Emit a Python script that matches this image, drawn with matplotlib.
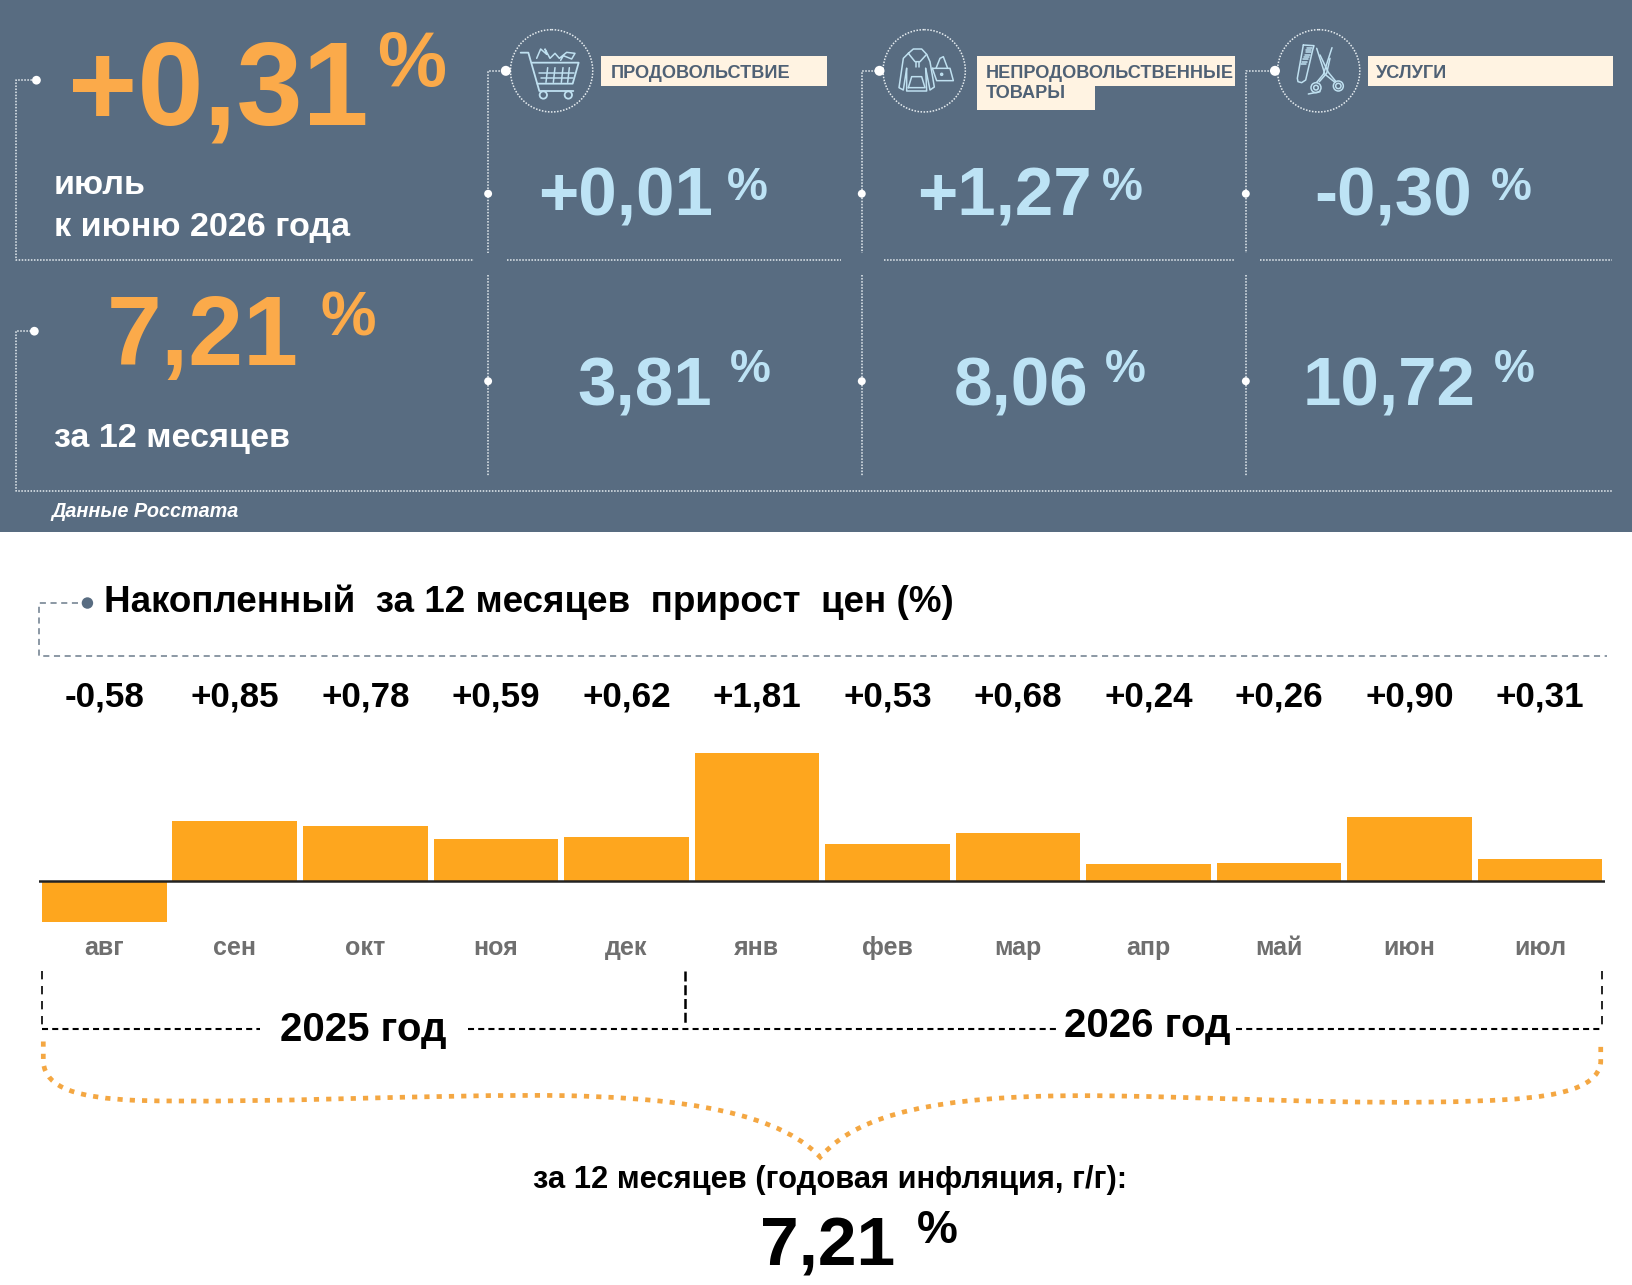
import matplotlib
matplotlib.use('Agg')
import matplotlib.pyplot as plt
from matplotlib.patches import Rectangle, Circle, PathPatch, Ellipse
from matplotlib.path import Path

plt.rcParams['font.family'] = ['Liberation Sans', 'DejaVu Sans']

months = ['авг', 'сен', 'окт', 'ноя', 'дек', 'янв', 'фев', 'мар', 'апр', 'май', 'июн', 'июл']
monthly_growth = [-0.58, 0.85, 0.78, 0.59, 0.62, 1.81, 0.53, 0.68, 0.24, 0.26, 0.90, 0.31]
categories = ['ПРОДОВОЛЬСТВИЕ', 'НЕПРОДОВОЛЬСТВЕННЫЕ\nТОВАРЫ', 'УСЛУГИ']
month_values = ['+0,01', '+1,27', '-0,30']
year_values = ['3,81', '8,06', '10,72']

BG = '#586c81'
ORANGE = '#fbaa4a'
BAR = '#fea61e'
BLUE = '#bde3f5'
CREAM = '#fff3e2'
DOT = '#e6ecf0'
GREY = '#6f6f6f'
ICON = '#bfe0f0'

W, H = 1569, 1233.8  # overlay coordinates, close to the picture scale
fig = plt.figure(figsize=(16.33, 12.85), dpi=100, facecolor='white')
ov = fig.add_axes([0, 0, 1, 1])
ov.set_xlim(0, W)
ov.set_ylim(H, 0)
ov.axis('off')

ov.add_patch(Rectangle((0, 0), W, 510.5, color=BG, lw=0))


def dotted(xs, ys, color=DOT, lw=1.1):
    ov.plot(xs, ys, color=color, lw=lw, ls=(0, (1, 1)))


def node(x, y, r=4.2, color='white'):
    ov.add_patch(Ellipse((x, y), r * 2, r * 2, color=color, lw=0, zorder=5))


# --- top panel: connector lines ---
dotted([34, 15, 15, 455], [77, 77, 250, 250])
dotted([33, 15, 15, 1549], [318, 318, 471, 471])
node(35, 77)
node(33, 318)
for x0, x1 in [(487, 808), (849, 1186), (1211, 1549)]:
    dotted([x0, x1], [250, 250])

col_x = [469, 828, 1197]
head_x = [486, 845, 1225]
circle_x = [530, 888, 1267]
for cx, hx, ix in zip(col_x, head_x, circle_x):
    dotted([hx, cx, cx], [68, 68, 243])
    dotted([cx, cx], [264, 457])
    node(hx, 68, 4.8)
    node(cx, 186, 3.8)
    node(cx, 366, 3.8)
    ov.add_patch(Circle((ix, 68), 39.5, fill=False, ec=DOT, lw=1.1, ls=(0, (1, 1))))

# --- category labels ---
ov.add_patch(Rectangle((577, 54), 218, 29, color=CREAM, lw=0))
ov.add_patch(Rectangle((939, 54), 248, 29, color=CREAM, lw=0))
ov.add_patch(Rectangle((939, 83), 113, 23, color=CREAM, lw=0))
ov.add_patch(Rectangle((1314, 54), 236, 29, color=CREAM, lw=0))
lab_kw = dict(color='#4f6175', fontsize=13.1, fontweight='bold')
ov.text(587, 75, categories[0], **lab_kw)
first, second = categories[1].split('\n')
ov.text(947, 75, first, **lab_kw)
ov.text(947, 94.5, second, **lab_kw)
ov.text(1322, 75, categories[2], **lab_kw)


# --- icons (outlines, in px of a 100x95 crop x3) ---
def sketch(ox, oy, pts, lw=1.1):
    xs = [(ox + p[0] / 3) * W / 1633 for p in pts]
    ys = [(oy + p[1] / 3) * H / 1285 for p in pts]
    ov.plot(xs, ys, color=ICON, lw=lw, solid_capstyle='round', solid_joinstyle='round')


def ring(ox, oy, c, r, lw=1.1):
    ov.add_patch(Circle(((ox + c[0] / 3) * W / 1633, (oy + c[1] / 3) * H / 1285), r / 3 * W / 1633,
                        fill=False, ec=ICON, lw=lw))


# cart
ox, oy = 500, 25
sketch(ox, oy, [(62, 83), (85, 83), (118, 198), (220, 198)], 1.3)
sketch(ox, oy, [(97, 113), (236, 113), (218, 176), (112, 176)], 1.3)
sketch(ox, oy, [(118, 143), (222, 143)])
sketch(ox, oy, [(122, 158), (218, 158)])
for gx in (140, 162, 186, 205):
    sketch(ox, oy, [(gx + 3, 128), (gx - 2, 172)])
sketch(ox, oy, [(110, 100), (122, 72), (140, 88), (135, 72), (150, 100), (165, 85), (178, 100),
                (200, 82), (225, 85), (215, 102), (190, 92), (182, 106)])
ring(ox, oy, (130, 210), 11, 1.3)
ring(ox, oy, (205, 210), 11, 1.3)
# hoodie and bag
ox, oy = 875, 25
sketch(ox, oy, [(100, 85), (115, 72), (140, 72), (155, 88), (135, 110), (120, 110), (100, 85)])
sketch(ox, oy, [(100, 85), (85, 100), (72, 188), (85, 195), (95, 130)])
sketch(ox, oy, [(155, 88), (165, 110), (178, 186), (165, 195), (152, 130)])
sketch(ox, oy, [(95, 130), (95, 198), (155, 198), (152, 130)])
sketch(ox, oy, [(100, 188), (110, 155), (140, 155), (150, 188), (100, 188)])
sketch(ox, oy, [(122, 110), (122, 125)])
sketch(ox, oy, [(132, 110), (132, 125)])
sketch(ox, oy, [(172, 130), (225, 130), (235, 167), (185, 167), (172, 130)])
sketch(ox, oy, [(183, 130), (195, 100), (205, 95), (218, 130)])
ring(ox, oy, (200, 148), 3)
# comb and scissors
ox, oy = 1270, 25
sketch(ox, oy, [(100, 60), (132, 62), (128, 75), (107, 165), (95, 173), (84, 170), (82, 160), (100, 60)])
for k in range(8):
    sketch(ox, oy, [(127 - k * 2.7, 68 + k * 7), (112 - k * 2.7, 68 + k * 7)])
sketch(ox, oy, [(140, 70), (165, 148), (195, 172)])
sketch(ox, oy, [(150, 90), (175, 142), (198, 170)])
sketch(ox, oy, [(186, 68), (160, 148), (140, 172)])
sketch(ox, oy, [(180, 100), (170, 145), (148, 170)])
ring(ox, oy, (205, 183), 15)
ring(ox, oy, (205, 183), 8)
ring(ox, oy, (138, 188), 15)
ring(ox, oy, (138, 188), 7)
sketch(ox, oy, [(115, 207), (150, 200)])

# --- headline numbers ---
ov.text(65, 120, '+0,31', color=ORANGE, fontsize=85.5, fontweight='bold')
ov.text(362, 83, '%', color=ORANGE, fontsize=56, fontweight='bold')
ov.text(103, 350, '7,21', color=ORANGE, fontsize=71, fontweight='bold')
ov.text(308, 322, '%', color=ORANGE, fontsize=45, fontweight='bold')

val_x = [[517, 881, 1263], [555, 916, 1252]]
pct_x = [[698, 1059, 1432], [701, 1062, 1435]]
for vals, vxs, pxs, base, pbase in zip([month_values, year_values], val_x, pct_x, [207, 389], [192, 367]):
    for v, vx, px in zip(vals, vxs, pxs):
        ov.text(vx, base, v, color=BLUE, fontsize=49.8, fontweight='bold')
        ov.text(px, pbase, '%', color=BLUE, fontsize=33, fontweight='bold')

ov.text(52, 186, 'июль', color='white', fontsize=24.6, fontweight='bold')
ov.text(52, 227, 'к июню 2026 года', color='white', fontsize=24.6, fontweight='bold')
ov.text(52, 429, 'за 12 месяцев', color='white', fontsize=24.6, fontweight='bold')
ov.text(49, 496, 'Данные Росстата', color='white', fontsize=14.3, fontweight='bold', style='italic')

# --- chart title ---
ov.plot([75, 37, 37, 1544], [579, 579, 630, 630], color='#6c7c8c', lw=1.1, ls=(0, (4, 3)))
node(84, 579, 5.5, BG)
ov.text(100, 588, 'Накопленный  за 12 месяцев  прирост  цен (%)', color='black',
        fontsize=26.45, fontweight='bold')

# --- bars ---
ax = fig.add_axes([37.5 / W, 1 - 886.8 / H, (1542.5 - 37.5) / W, (886.8 - 720.2) / H])
ax.patch.set_alpha(0)
xs = list(range(len(months)))
ax.bar(xs, monthly_growth, width=0.955, color=BAR, linewidth=0)
ax.axhline(0, color='#222222', lw=1.8)
ax.set_xlim(-0.5, 11.5)
ax.set_ylim(-0.6, 1.85)
ax.axis('off')
trans = ax.get_xaxis_transform()
span = 886.8 - 720.2
for x, v, m in zip(xs, monthly_growth, months):
    label = f'{v:+.2f}'.replace('.', ',')
    ax.text(x, (886.8 - 669) / span, label, transform=trans, ha='center', va='center',
            fontsize=25.2, fontweight='bold', color='black', clip_on=False)
    ax.text(x, (886.8 - 910) / span, m, transform=trans, ha='center', va='center',
            fontsize=18, fontweight='bold', color=GREY, clip_on=False)

# --- years ---
dash = dict(color='black', lw=1.2, ls=(0, (5, 4)))
ov.plot([40, 40], [932, 988], **dash)
ov.plot([658, 658], [932, 985], color='black', lw=1.8, ls=(0, (4, 1.5)))
ov.plot([1539, 1539], [932, 988], **dash)
for x0, x1 in [(40, 250), (450, 1015), (1188, 1540)]:
    ov.plot([x0, x1], [988, 988], color='black', lw=1.5, ls=(0, (2.9, 2)))
ov.text(269, 1000, '2025 год', color='black', fontsize=29, fontweight='bold')
ov.text(1022, 996, '2026 год', color='black', fontsize=29, fontweight='bold')

# --- brace ---
verts = [(41.6, 1000), (41.6, 1020),
         (44, 1045), (75, 1054), (130, 1056.5),
         (250, 1060), (420, 1050), (545, 1052),
         (620, 1054), (740, 1060), (788, 1111),
         (790, 1109),
         (825, 1070), (900, 1052), (1040, 1052),
         (1150, 1052), (1300, 1062), (1420, 1057),
         (1490, 1055), (1535, 1047), (1538, 1020),
         (1538, 1000)]
codes = [Path.MOVETO, Path.LINETO] + [Path.CURVE4] * 9 + [Path.LINETO] + [Path.CURVE4] * 9 + [Path.LINETO]
ov.add_patch(PathPatch(Path(verts, codes), fill=False, ec='#f4a742', lw=3.4, ls=(0, (1.1, 1.5))))

# --- total ---
ov.text(798, 1141, 'за 12 месяцев (годовая инфляция, г/г):', color='black', fontsize=22.2, fontweight='bold', ha='center')
ov.text(730, 1215, '7,21', color='black', fontsize=50, fontweight='bold')
ov.text(881, 1193, '%', color='black', fontsize=33, fontweight='bold')

fig.savefig('out.png', dpi=100, facecolor='white')
